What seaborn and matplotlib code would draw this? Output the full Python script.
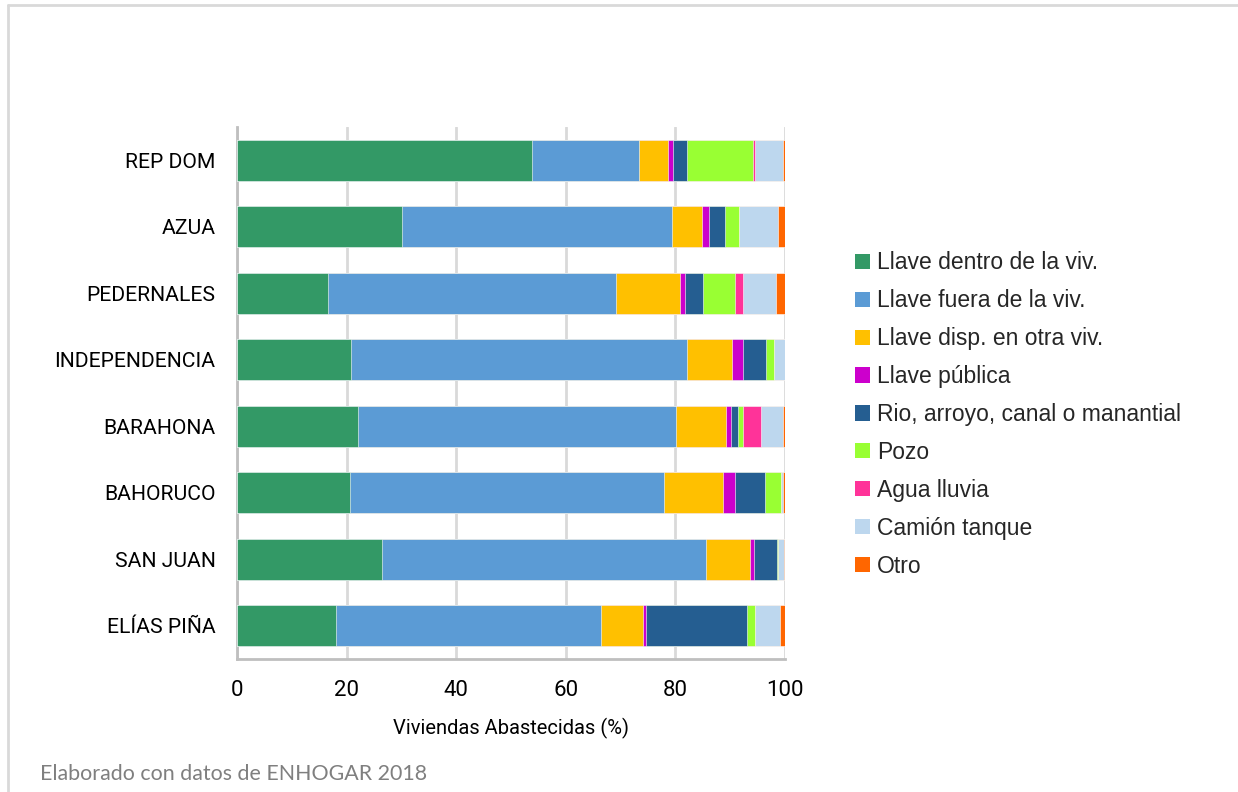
import matplotlib
matplotlib.use("Agg")
import matplotlib.pyplot as plt
from matplotlib.patches import Patch
from matplotlib.lines import Line2D
import numpy as np
import pandas as pd
import seaborn as sns

regions = ["REP DOM", "AZUA", "PEDERNALES", "INDEPENDENCIA", "BARAHONA",
           "BAHORUCO", "SAN JUAN", "ELÍAS PIÑA"]
series_names = ["Llave dentro de la viv.", "Llave fuera de la viv.",
                "Llave disp. en otra viv.", "Llave pública",
                "Rio, arroyo, canal o manantial", "Pozo", "Agua lluvia",
                "Camión tanque", "Otro"]
dentro = [53.8, 30.1, 16.6, 20.8, 22.1, 20.6, 26.5, 18.1]
fuera = [19.6, 49.3, 52.6, 61.4, 58.0, 57.4, 59.1, 48.3]
otra_viv = [5.2, 5.4, 11.7, 8.2, 9.1, 10.7, 8.1, 7.6]
publica = [1.0, 1.4, 0.8, 2.0, 1.0, 2.2, 0.7, 0.6]
rio = [2.5, 2.8, 3.3, 4.1, 1.2, 5.4, 4.1, 18.4]
pozo = [12.0, 2.6, 5.8, 1.5, 0.9, 2.9, 0.3, 1.6]
lluvia = [0.5, 0.0, 1.6, 0.0, 3.3, 0.0, 0.0, 0.0]
camion = [5.0, 7.2, 5.9, 2.0, 4.1, 0.5, 1.1, 4.5]
otro = [0.4, 1.2, 1.7, 0.0, 0.3, 0.3, 0.1, 0.9]
colors = ["#339966", "#5B9BD5", "#FFC000", "#CC00CC", "#255E91",
          "#99FF33", "#FF3399", "#BDD7EE", "#FF6600"]
xticks = [0, 20, 40, 60, 80, 100]

sns.set_theme(style="white")
plt.rcParams["font.family"] = ["Liberation Sans", "DejaVu Sans"]

series = [dentro, fuera, otra_viv, publica, rio, pozo, lluvia, camion, otro]
cum = np.cumsum(np.array(series), axis=0)

fig = plt.figure(figsize=(12.38, 7.92), dpi=100)
ax = fig.add_axes([237/1238, 1-659/792, 548/1238, 532/792])

for i in range(len(series) - 1, -1, -1):
    df = pd.DataFrame({"region": regions, "value": cum[i]})
    sns.barplot(data=df, x="value", y="region", color=colors[i], saturation=1,
                width=0.62, orient="h", errorbar=None, ax=ax,
                edgecolor="white", linewidth=0.4, zorder=3)

ax.set_xlim(0, 100)
ax.set_ylim(len(regions) - 0.5, -0.5)
ax.set_xticks(xticks)
ax.set_xticklabels([str(t) for t in xticks])
ax.grid(axis="x", color="#d9d9d9", linewidth=2, zorder=0)
ax.grid(axis="y", visible=False)
for s in ["top", "right"]:
    ax.spines[s].set_visible(False)
ax.spines["left"].set_color("#bfbfbf")
ax.spines["left"].set_linewidth(2)
ax.spines["bottom"].set_color("#bfbfbf")
ax.spines["bottom"].set_linewidth(2)
ax.tick_params(axis="both", length=0, colors="black")
ax.tick_params(axis="y", pad=15.5)
ax.tick_params(axis="x", pad=15)
for lab in ax.get_yticklabels():
    lab.set_fontfamily(["Roboto", "DejaVu Sans"])
    lab.set_fontsize(15.2)
for lab in ax.get_xticklabels():
    lab.set_fontfamily(["Roboto", "DejaVu Sans"])
    lab.set_fontsize(16)
ax.set_ylabel("")
ax.set_xlabel("Viviendas Abastecidas (%)", fontsize=14.5, labelpad=12,
              color="black", family=["Roboto", "DejaVu Sans"])

handles = [Patch(facecolor=c, edgecolor="none") for c in colors]
fig.legend(handles, series_names, loc="center left",
           bbox_to_anchor=(855/1238, 1-414.5/792), frameon=False,
           fontsize=16.5, handlelength=0.65, handleheight=0.65,
           handletextpad=0.3, labelspacing=0.65, borderpad=0, borderaxespad=0)

fig.text(40/1238, 1-780/792, "Elaborado con datos de ENHOGAR 2018",
         fontsize=15.4, color="#7f7f7f", family=["Lato", "DejaVu Sans"],
         ha="left", va="baseline")

fig.add_artist(Line2D([8/1238, 1], [1-5/792, 1-5/792], transform=fig.transFigure,
                      color="#d9d9d9", linewidth=2))
fig.add_artist(Line2D([8/1238, 8/1238], [0, 1-5/792], transform=fig.transFigure,
                      color="#d9d9d9", linewidth=2))

fig.savefig("out.png", dpi=100, facecolor="white")
